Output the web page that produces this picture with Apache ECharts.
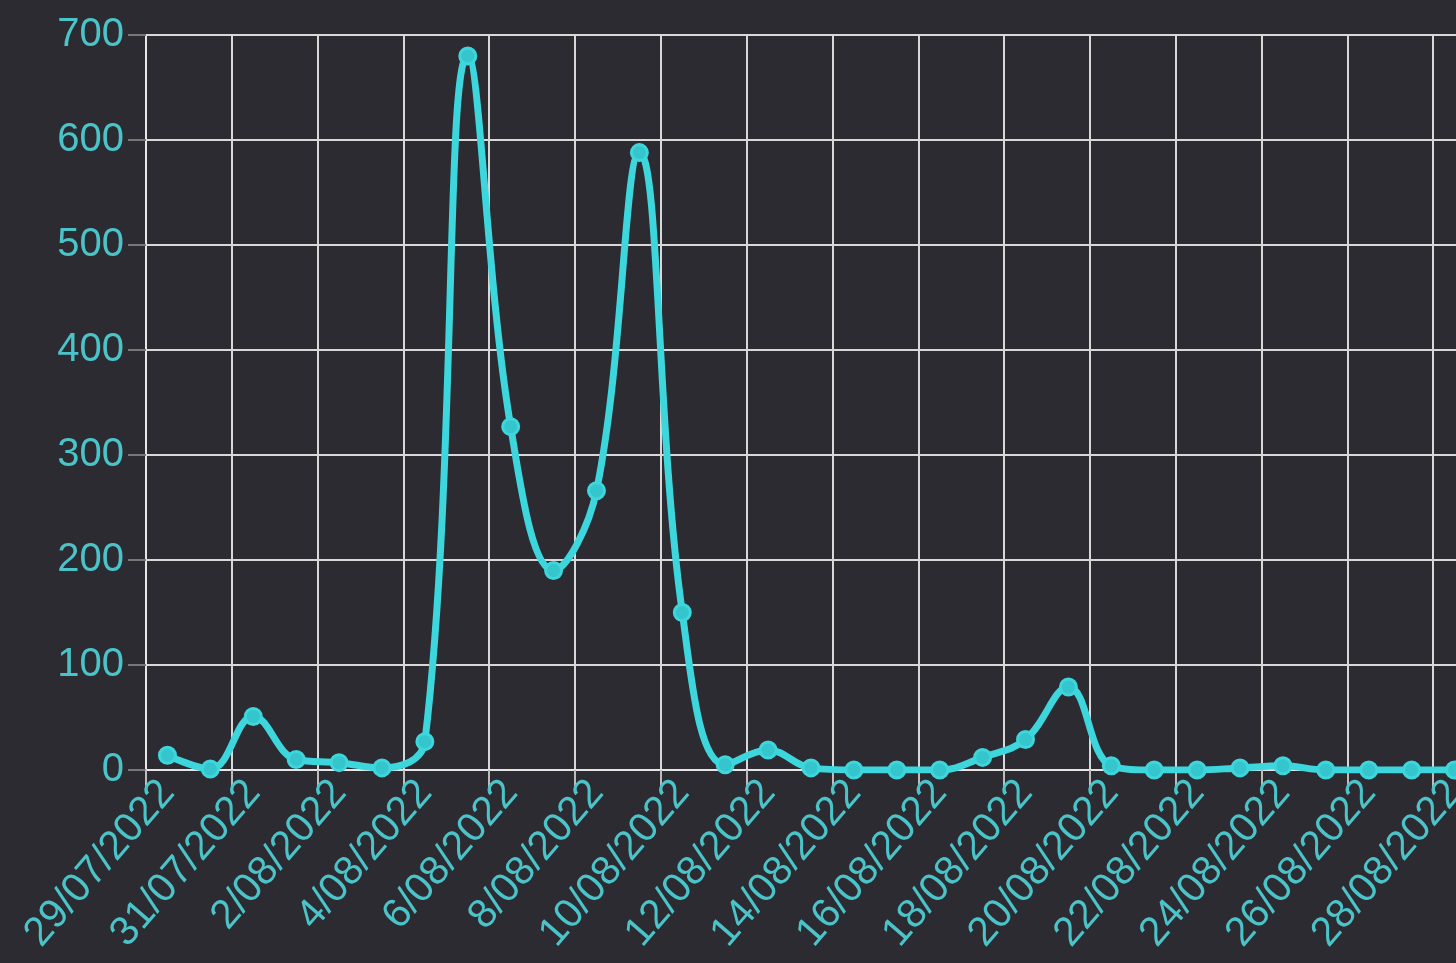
<!DOCTYPE html>
<html>
<head>
<meta charset="utf-8">
<script src="https://cdn.jsdelivr.net/npm/echarts@6/dist/echarts.min.js"></script>
<style>
html,body{margin:0;padding:0;background:#2b2b31;}
#c{width:1456px;height:963px;}
</style>
</head>
<body>
<div id="c"></div>
<script>
const dates = ["29/07/2022","30/07/2022","31/07/2022","1/08/2022","2/08/2022","3/08/2022","4/08/2022","5/08/2022","6/08/2022","7/08/2022","8/08/2022","9/08/2022","10/08/2022","11/08/2022","12/08/2022","13/08/2022","14/08/2022","15/08/2022","16/08/2022","17/08/2022","18/08/2022","19/08/2022","20/08/2022","21/08/2022","22/08/2022","23/08/2022","24/08/2022","25/08/2022","26/08/2022","27/08/2022","28/08/2022"];
const values = [14,1,51,10,7,2,27,680,327,190,266,588,150,5,19,2,0,0,0,12,29,79,4,0,0,2,4,0,0,0,0];
const yTicks = [0,100,200,300,400,500,600,700];

const chart = echarts.init(document.getElementById('c'), null, {renderer:'canvas'});
const cyan = '#3dd6dc';
const txt = '#4bc4c9';
chart.setOption({
  backgroundColor:'#2b2b31',
  animation:false,
  grid:{left:146, top:35, height:735, width:1330, containLabel:false, outerBoundsMode:'none'},
  xAxis:{
    type:'category',
    data:dates,
    boundaryGap:true,
    axisLine:{show:true, lineStyle:{color:'#e6e6e6', width:2}},
    axisTick:{show:true, interval:1, length:20, lineStyle:{color:'#bdbdbd', width:2}},
    axisLabel:{interval:1, rotate:49, color:txt, fontSize:41, fontFamily:'Liberation Sans, Arial, sans-serif', margin:16},
    splitLine:{show:true, interval:1, lineStyle:{color:'#d8d8d8', width:2}}
  },
  yAxis:{
    type:'value',
    min:yTicks[0], max:yTicks[yTicks.length-1], interval:100,
    axisLine:{show:true, lineStyle:{color:'#e6e6e6', width:2}},
    axisTick:{show:true, length:18, lineStyle:{color:'#777777', width:2}},
    axisLabel:{color:txt, fontSize:40, fontFamily:'Liberation Sans, Arial, sans-serif', margin:22},
    splitLine:{show:true, lineStyle:{color:'#d8d8d8', width:2}}
  },
  series:[{
    type:'line',
    data:values,
    smooth:0.4,
    symbol:'circle',
    symbolSize:16,
    lineStyle:{color:cyan, width:7},
    itemStyle:{color:'#34c6cc', borderColor:cyan, borderWidth:3}
  }]
});
</script>
</body>
</html>
